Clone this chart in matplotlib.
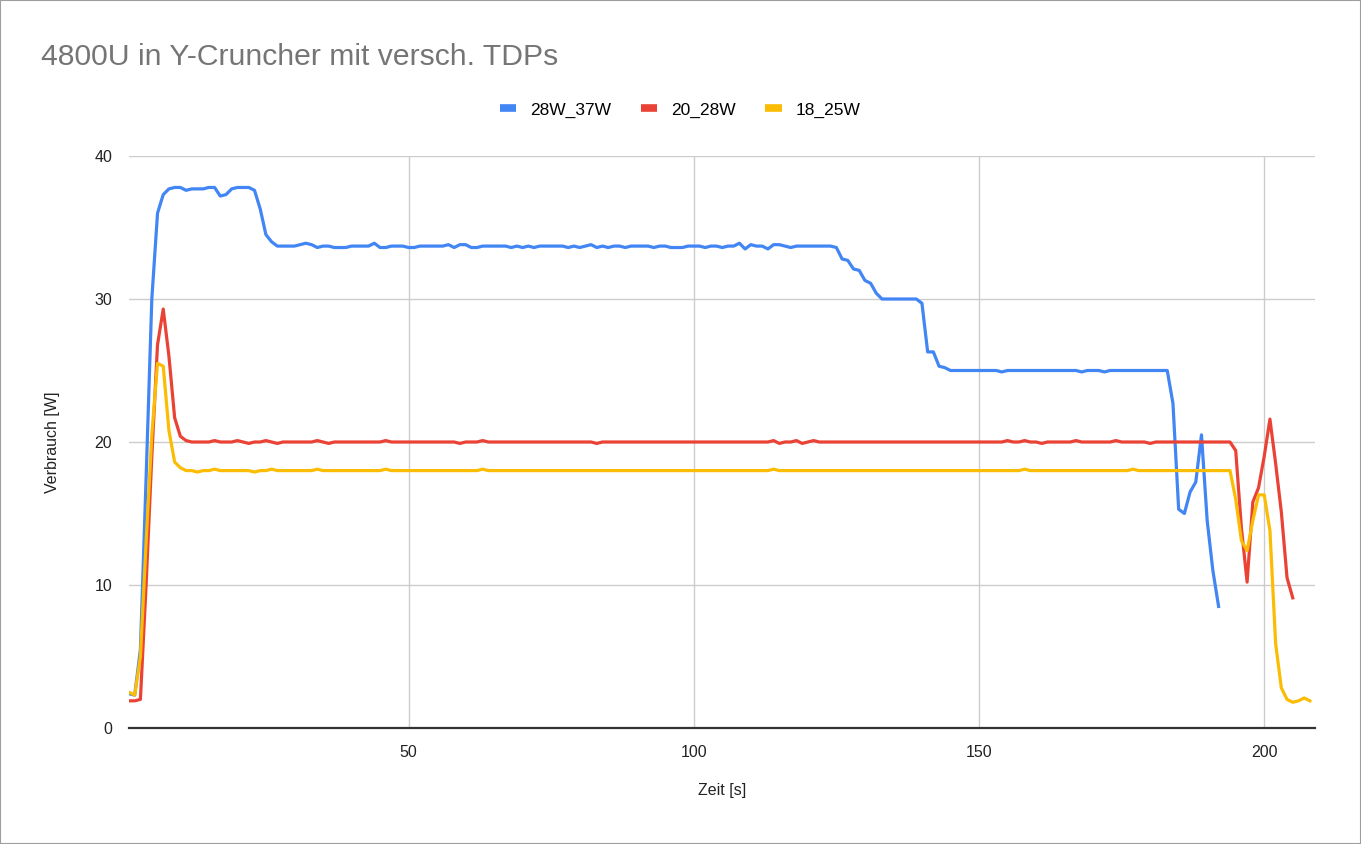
import matplotlib
matplotlib.use("Agg")
import matplotlib.pyplot as plt
from matplotlib.lines import Line2D
from matplotlib.patches import Rectangle

title = "4800U in Y-Cruncher mit versch. TDPs"
series_names = ["28W_37W", "20_28W", "18_25W"]
x_label = "Zeit [s]"
y_label = "Verbrauch [W]"

blue_28W_37W = [
    2.4, 2.3, 5.5, 17.5, 30.0, 36.0, 37.3, 37.7, 37.8, 37.8,
    37.6, 37.7, 37.7, 37.7, 37.8, 37.8, 37.2, 37.3, 37.7, 37.8,
    37.8, 37.8, 37.6, 36.3, 34.5, 34.0, 33.7, 33.7, 33.7, 33.7,
    33.8, 33.9, 33.8, 33.6, 33.7, 33.7, 33.6, 33.6, 33.6, 33.7,
    33.7, 33.7, 33.7, 33.9, 33.6, 33.6, 33.7, 33.7, 33.7, 33.6,
    33.6, 33.7, 33.7, 33.7, 33.7, 33.7, 33.8, 33.6, 33.8, 33.8,
    33.6, 33.6, 33.7, 33.7, 33.7, 33.7, 33.7, 33.6, 33.7, 33.6,
    33.7, 33.6, 33.7, 33.7, 33.7, 33.7, 33.7, 33.6, 33.7, 33.6,
    33.7, 33.8, 33.6, 33.7, 33.6, 33.7, 33.7, 33.6, 33.7, 33.7,
    33.7, 33.7, 33.6, 33.7, 33.7, 33.6, 33.6, 33.6, 33.7, 33.7,
    33.7, 33.6, 33.7, 33.7, 33.6, 33.7, 33.7, 33.9, 33.5, 33.8,
    33.7, 33.7, 33.5, 33.8, 33.8, 33.7, 33.6, 33.7, 33.7, 33.7,
    33.7, 33.7, 33.7, 33.7, 33.6, 32.8, 32.7, 32.1, 32.0, 31.3,
    31.1, 30.4, 30.0, 30.0, 30.0, 30.0, 30.0, 30.0, 30.0, 29.7,
    26.3, 26.3, 25.3, 25.2, 25.0, 25.0, 25.0, 25.0, 25.0, 25.0,
    25.0, 25.0, 25.0, 24.9, 25.0, 25.0, 25.0, 25.0, 25.0, 25.0,
    25.0, 25.0, 25.0, 25.0, 25.0, 25.0, 25.0, 24.9, 25.0, 25.0,
    25.0, 24.9, 25.0, 25.0, 25.0, 25.0, 25.0, 25.0, 25.0, 25.0,
    25.0, 25.0, 25.0, 22.7, 15.3, 15.0, 16.5, 17.2, 20.5, 14.5,
    11.0, 8.5,
]

red_20_28W = [
    1.9, 1.9, 2.0, 10.0, 19.0, 26.8, 29.3, 26.0, 21.7, 20.4,
    20.1, 20.0, 20.0, 20.0, 20.0, 20.1, 20.0, 20.0, 20.0, 20.1,
    20.0, 19.9, 20.0, 20.0, 20.1, 20.0, 19.9, 20.0, 20.0, 20.0,
    20.0, 20.0, 20.0, 20.1, 20.0, 19.9, 20.0, 20.0, 20.0, 20.0,
    20.0, 20.0, 20.0, 20.0, 20.0, 20.1, 20.0, 20.0, 20.0, 20.0,
    20.0, 20.0, 20.0, 20.0, 20.0, 20.0, 20.0, 20.0, 19.9, 20.0,
    20.0, 20.0, 20.1, 20.0, 20.0, 20.0, 20.0, 20.0, 20.0, 20.0,
    20.0, 20.0, 20.0, 20.0, 20.0, 20.0, 20.0, 20.0, 20.0, 20.0,
    20.0, 20.0, 19.9, 20.0, 20.0, 20.0, 20.0, 20.0, 20.0, 20.0,
    20.0, 20.0, 20.0, 20.0, 20.0, 20.0, 20.0, 20.0, 20.0, 20.0,
    20.0, 20.0, 20.0, 20.0, 20.0, 20.0, 20.0, 20.0, 20.0, 20.0,
    20.0, 20.0, 20.0, 20.1, 19.9, 20.0, 20.0, 20.1, 19.9, 20.0,
    20.1, 20.0, 20.0, 20.0, 20.0, 20.0, 20.0, 20.0, 20.0, 20.0,
    20.0, 20.0, 20.0, 20.0, 20.0, 20.0, 20.0, 20.0, 20.0, 20.0,
    20.0, 20.0, 20.0, 20.0, 20.0, 20.0, 20.0, 20.0, 20.0, 20.0,
    20.0, 20.0, 20.0, 20.0, 20.1, 20.0, 20.0, 20.1, 20.0, 20.0,
    19.9, 20.0, 20.0, 20.0, 20.0, 20.0, 20.1, 20.0, 20.0, 20.0,
    20.0, 20.0, 20.0, 20.1, 20.0, 20.0, 20.0, 20.0, 20.0, 19.9,
    20.0, 20.0, 20.0, 20.0, 20.0, 20.0, 20.0, 20.0, 20.0, 20.0,
    20.0, 20.0, 20.0, 20.0, 19.4, 14.0, 10.2, 15.8, 16.8, 19.0,
    21.6, 18.5, 15.1, 10.5, 9.1,
]

yellow_18_25W = [
    2.5, 2.3, 5.0, 13.0, 20.5, 25.5, 25.3, 20.8, 18.6, 18.2,
    18.0, 18.0, 17.9, 18.0, 18.0, 18.1, 18.0, 18.0, 18.0, 18.0,
    18.0, 18.0, 17.9, 18.0, 18.0, 18.1, 18.0, 18.0, 18.0, 18.0,
    18.0, 18.0, 18.0, 18.1, 18.0, 18.0, 18.0, 18.0, 18.0, 18.0,
    18.0, 18.0, 18.0, 18.0, 18.0, 18.1, 18.0, 18.0, 18.0, 18.0,
    18.0, 18.0, 18.0, 18.0, 18.0, 18.0, 18.0, 18.0, 18.0, 18.0,
    18.0, 18.0, 18.1, 18.0, 18.0, 18.0, 18.0, 18.0, 18.0, 18.0,
    18.0, 18.0, 18.0, 18.0, 18.0, 18.0, 18.0, 18.0, 18.0, 18.0,
    18.0, 18.0, 18.0, 18.0, 18.0, 18.0, 18.0, 18.0, 18.0, 18.0,
    18.0, 18.0, 18.0, 18.0, 18.0, 18.0, 18.0, 18.0, 18.0, 18.0,
    18.0, 18.0, 18.0, 18.0, 18.0, 18.0, 18.0, 18.0, 18.0, 18.0,
    18.0, 18.0, 18.0, 18.1, 18.0, 18.0, 18.0, 18.0, 18.0, 18.0,
    18.0, 18.0, 18.0, 18.0, 18.0, 18.0, 18.0, 18.0, 18.0, 18.0,
    18.0, 18.0, 18.0, 18.0, 18.0, 18.0, 18.0, 18.0, 18.0, 18.0,
    18.0, 18.0, 18.0, 18.0, 18.0, 18.0, 18.0, 18.0, 18.0, 18.0,
    18.0, 18.0, 18.0, 18.0, 18.0, 18.0, 18.0, 18.1, 18.0, 18.0,
    18.0, 18.0, 18.0, 18.0, 18.0, 18.0, 18.0, 18.0, 18.0, 18.0,
    18.0, 18.0, 18.0, 18.0, 18.0, 18.0, 18.1, 18.0, 18.0, 18.0,
    18.0, 18.0, 18.0, 18.0, 18.0, 18.0, 18.0, 18.0, 18.0, 18.0,
    18.0, 18.0, 18.0, 18.0, 16.0, 13.1, 12.4, 14.5, 16.3, 16.3,
    13.8, 5.9, 2.8, 2.0, 1.8, 1.9, 2.1, 1.9,
]

colors = ["#4285F4", "#EA4335", "#FBBC04"]
x_ticks = [50, 100, 150, 200]
y_ticks = [0, 10, 20, 30, 40]

plt.rcParams['font.family'] = ['Liberation Sans', 'DejaVu Sans']

W, H = 1361, 844
fig = plt.figure(figsize=(W / 100, H / 100), dpi=100)
fig.patch.set_facecolor("white")

left, right, top, bottom = 129, 1315, 156, 728
ax = fig.add_axes([left / W, 1 - bottom / H, (right - left) / W, (bottom - top) / H])

all_series = [blue_28W_37W, red_20_28W, yellow_18_25W]
for name, vals, c in zip(series_names, all_series, colors):
    xs = list(range(1, len(vals) + 1))
    ax.plot(xs, vals, color=c, lw=2.3, solid_joinstyle="round", label=name, zorder=3)

ax.set_xlim(1, 208.9)
ax.set_ylim(0, 40)
ax.set_xticks(x_ticks)
ax.set_yticks(y_ticks)
ax.grid(True, color="#cccccc", lw=1.0, zorder=0)
for s in ["top", "right", "left"]:
    ax.spines[s].set_visible(False)
ax.spines["bottom"].set_color("#333333")
ax.spines["bottom"].set_linewidth(1.6)
ax.spines["bottom"].set_zorder(4)
ax.tick_params(axis="both", length=0, labelsize=11.5, colors="#222222")
ax.tick_params(axis="x", pad=12)
ax.tick_params(axis="y", pad=12)

ax.set_xlabel(x_label, fontsize=11.5, color="#222222", labelpad=17)
ax.set_ylabel(y_label, fontsize=11.5, color="#222222", labelpad=25)

fig.text(41 / W, 1 - 57 / H, title, fontsize=21.7, color="#757575", va="center", ha="left")

handles = [Line2D([0], [0], color=c, lw=5.5, solid_capstyle="butt") for c in colors]
fig.legend(handles, series_names, loc="center", bbox_to_anchor=(680 / W, 1 - 110 / H),
           ncol=3, frameon=False, fontsize=12.5, handlelength=0.95, handletextpad=0.8,
           columnspacing=1.7)

fig.patches.append(Rectangle((0, 0), 1, 1, transform=fig.transFigure, fill=False,
                             edgecolor="#9e9e9e", lw=1.5, zorder=10))

fig.savefig("out.png", dpi=100, facecolor="white")
